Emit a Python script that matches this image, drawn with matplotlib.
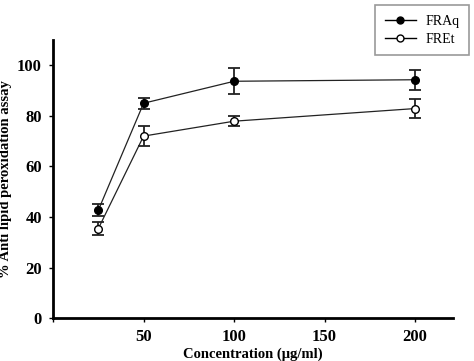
import numpy as np
import matplotlib
matplotlib.use('Agg')
import matplotlib.pyplot as plt
from matplotlib.lines import Line2D

plt.rcParams['font.family'] = 'Liberation Serif'

conc = [25, 50, 100, 200]
fraq = [42.7, 85.0, 93.7, 94.3]
fraq_err = [2.5, 2.2, 5.1, 3.9]
fret = [35.4, 72.0, 77.9, 82.9]
fret_err = [2.5, 3.9, 2.0, 3.6]

fig = plt.figure(figsize=(4.74, 3.61), dpi=100)
ax = fig.add_axes([0.112, 0.119, 0.844, 0.770])

ax.errorbar(conc, fraq, yerr=fraq_err, color='#222222', lw=0.9, marker='o', ms=5.5,
            mfc='black', mec='black', capsize=4, elinewidth=1.3, capthick=1.3)
ax.errorbar(conc, fret, yerr=fret_err, color='#222222', lw=0.9, marker='o', ms=5.5,
            mfc='white', mec='black', capsize=4, elinewidth=1.3, capthick=1.3)

ax.set_xlim(0, 221)
ax.set_ylim(0, 110)
ax.set_xticks([0, 50, 100, 150, 200])
ax.set_xticklabels(['', '50', '100', '150', '200'])
ax.set_yticks([0, 20, 40, 60, 80, 100])
ax.spines['top'].set_visible(False)
ax.spines['right'].set_visible(False)
ax.spines['left'].set_linewidth(2)
ax.spines['bottom'].set_linewidth(2)
ax.tick_params(direction='out', length=3, width=1, labelsize=12, pad=5)
for lab in ax.get_xticklabels() + ax.get_yticklabels():
    lab.set_fontweight('bold')

ax.set_xlabel('Concentration (\u03bcg/ml)', fontsize=10.5, fontweight='bold', labelpad=2)
ax.set_ylabel('% Anti lipid peroxidation assay', fontsize=10.5, fontweight='bold', labelpad=4)

handles = [
    Line2D([], [], color='black', lw=1, marker='o', ms=5, mfc='black', mec='black'),
    Line2D([], [], color='black', lw=1, marker='o', ms=5, mfc='white', mec='black'),
]
leg = ax.legend(handles, ['FRAq', 'FREt'], loc='upper right',
                bbox_to_anchor=(0.99, 0.986), bbox_transform=fig.transFigure,
                borderaxespad=0, fancybox=False, edgecolor='gray', fontsize=10,
                handlelength=2.2, borderpad=0.7, labelspacing=0.35, handletextpad=0.7)
leg.get_frame().set_linewidth(1.2)

fig.savefig('out.png', dpi=100)
